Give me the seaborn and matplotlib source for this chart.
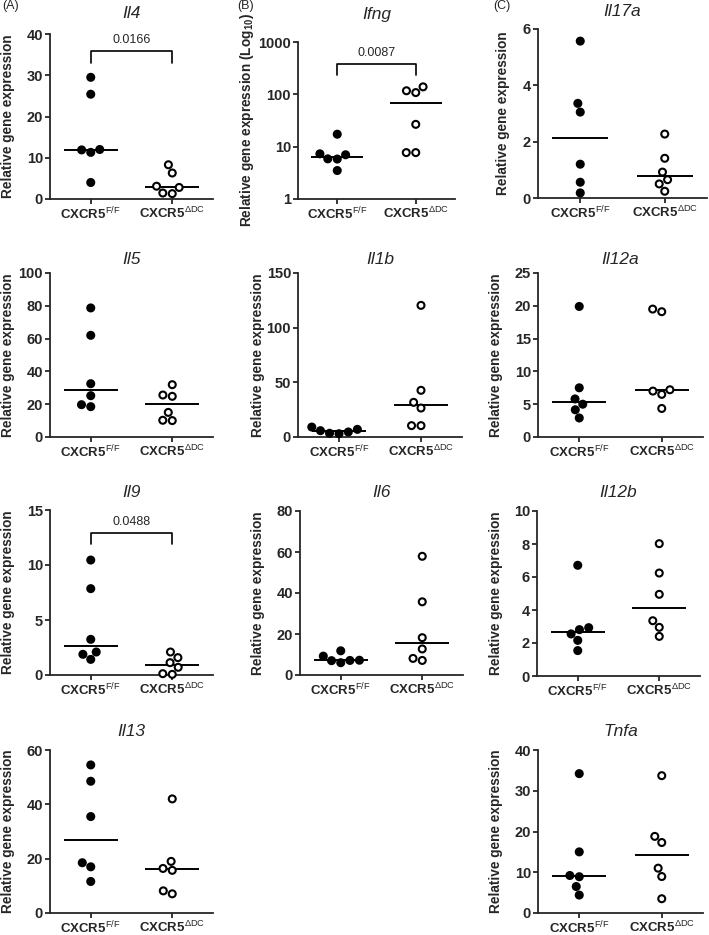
import numpy as np
import pandas as pd
import matplotlib
matplotlib.use('Agg')
import matplotlib.pyplot as plt
from matplotlib.ticker import NullLocator
import seaborn as sns

# data (relative gene expression per mouse)
groups = ['F/F', 'ΔDC']
tick_labels = [r'CXCR5$^{\mathrm{F/F}}$', r'CXCR5$^{\mathrm{ΔDC}}$']
genes = ['Il4', 'Ifng', 'Il17a', 'Il5', 'Il1b', 'Il12a', 'Il9', 'Il6', 'Il12b', 'Il13', 'Tnfa']

il4_ff = [29.5, 25.4, 11.9, 11.3, 12.0, 4.0]
il4_dc = [8.3, 6.3, 2.8, 1.3, 1.45, 3.1]
ifng_ff = [17.3, 5.85, 7.3, 3.5, 7.0, 5.8]
ifng_dc = [139, 108, 117, 26.7, 7.7, 7.7]
il17a_ff = [5.57, 3.05, 3.36, 1.2, 0.56, 0.18]
il17a_dc = [2.27, 1.41, 0.92, 0.65, 0.50, 0.24]
il5_ff = [78.7, 62.0, 32.5, 25.2, 18.5, 19.7]
il5_dc = [31.9, 25.6, 24.8, 15.0, 10.0, 10.2]
il1b_ff = [7.0, 4.6, 3.0, 3.4, 5.8, 9.1]
il1b_dc = [120.4, 42.7, 31.7, 26.5, 10.4, 10.4]
il12a_ff = [19.9, 7.5, 5.8, 5.0, 4.15, 2.9]
il12a_dc = [19.1, 19.5, 7.0, 6.5, 7.2, 4.35]
il9_ff = [10.45, 7.85, 3.24, 2.09, 1.88, 1.42]
il9_dc = [2.09, 1.58, 0.70, 1.12, 0.06, 0.12]
il6_ff = [9.2, 7.2, 6.0, 7.0, 7.1, 11.8]
il6_dc = [57.9, 35.7, 18.2, 12.7, 7.1, 8.1]
il12b_ff = [6.71, 2.81, 2.93, 2.55, 2.16, 1.54]
il12b_dc = [8.02, 6.24, 4.95, 3.35, 2.95, 2.40]
il13_ff = [54.5, 48.5, 35.5, 18.5, 17.0, 11.6]
il13_dc = [42.0, 19.0, 16.4, 15.7, 8.15, 7.06]
tnfa_ff = [34.2, 15.0, 9.2, 8.9, 6.5, 4.4]
tnfa_dc = [33.7, 18.8, 17.3, 11.0, 8.95, 3.5]

values = {
    'Il4': (il4_ff, il4_dc), 'Ifng': (ifng_ff, ifng_dc), 'Il17a': (il17a_ff, il17a_dc),
    'Il5': (il5_ff, il5_dc), 'Il1b': (il1b_ff, il1b_dc), 'Il12a': (il12a_ff, il12a_dc),
    'Il9': (il9_ff, il9_dc), 'Il6': (il6_ff, il6_dc), 'Il12b': (il12b_ff, il12b_dc),
    'Il13': (il13_ff, il13_dc), 'Tnfa': (tnfa_ff, tnfa_dc),
}

# y axis ticks per gene
yticks = {
    'Il4': [0, 10, 20, 30, 40], 'Ifng': [1, 10, 100, 1000], 'Il17a': [0, 2, 4, 6],
    'Il5': [0, 20, 40, 60, 80, 100], 'Il1b': [0, 50, 100, 150], 'Il12a': [0, 5, 10, 15, 20, 25],
    'Il9': [0, 5, 10, 15], 'Il6': [0, 20, 40, 60, 80], 'Il12b': [0, 2, 4, 6, 8, 10],
    'Il13': [0, 20, 40, 60], 'Tnfa': [0, 10, 20, 30, 40],
}

# p values: (text, bracket foot, bracket top)
brackets = {'Il4': ('0.0166', 33.0, 35.8), 'Ifng': ('0.0087', 232, 386), 'Il9': ('0.0488', 11.9, 12.9)}

# layout in pixels: axes (left, top, right, bottom), ylabel x, title y
W, H = 709, 935
rects = {
    'Il4': (50, 34, 213, 199), 'Ifng': (298, 42, 455, 199), 'Il17a': (538, 29, 707, 198),
    'Il5': (50, 273, 213, 437), 'Il1b': (298, 273, 462, 437), 'Il12a': (538, 273, 703, 437),
    'Il9': (50, 510, 213, 675), 'Il6': (300, 511, 463, 675), 'Il12b': (537, 511, 700, 676),
    'Il13': (50, 750, 213, 913), 'Tnfa': (538, 750, 703, 913),
}
label_x = {'Il4': 8, 'Ifng': 247, 'Il17a': 503, 'Il5': 8, 'Il1b': 258, 'Il12a': 496,
           'Il9': 8, 'Il6': 258, 'Il12b': 496, 'Il13': 8, 'Tnfa': 496}
title_y = {'Il4': 13, 'Ifng': 15, 'Il17a': 12, 'Il5': 260, 'Il1b': 260, 'Il12a': 260,
           'Il9': 493, 'Il6': 493, 'Il12b': 493, 'Il13': 732, 'Tnfa': 732}

sns.set_style('ticks')
plt.rcParams['font.family'] = ['Liberation Sans', 'DejaVu Sans']
plt.rcParams['mathtext.fontset'] = 'custom'
plt.rcParams['mathtext.rm'] = 'Liberation Sans'
plt.rcParams['mathtext.bf'] = 'Liberation Sans:bold'
plt.rcParams['mathtext.it'] = 'Liberation Sans:italic'

fig = plt.figure(figsize=(W / 100, H / 100), dpi=100)


def draw_panel(gene):
    L, T, R, B = rects[gene]
    ax = fig.add_axes([L / W, 1 - B / H, (R - L) / W, (B - T) / H])
    ff, dc = values[gene]
    df = pd.DataFrame({'group': [groups[0]] * len(ff) + [groups[1]] * len(dc),
                       'value': list(ff) + list(dc)})
    if gene == 'Ifng':
        ax.set_yscale('log')
    ax.set_ylim(yticks[gene][0], yticks[gene][-1])

    sns.swarmplot(data=df, x='group', y='value', hue='group', order=groups, hue_order=groups,
                  palette={groups[0]: 'black', groups[1]: 'white'}, edgecolor='black',
                  linewidth=1.5, size=5.0, legend=False, ax=ax)
    for coll in ax.collections:
        coll.set_clip_on(False)

    # median line for each group
    for i, g in enumerate(groups):
        med = np.median(df.loc[df['group'] == g, 'value'])
        ax.hlines(med, i - 0.33, i + 0.33, color='black', lw=1.4)

    ax.set_xlim(-0.5, 1.5)
    ax.set_xticks([0, 1], labels=tick_labels, fontweight='bold', fontsize=9.5)
    ax.set_yticks(yticks[gene], labels=[str(t) for t in yticks[gene]], fontweight='bold', fontsize=10.5)
    ax.yaxis.set_minor_locator(NullLocator())
    ax.set_xlabel('')
    ylab = 'Relative gene expression'
    if gene == 'Ifng':
        ylab += r' (Log$_{\mathbf{10}}$)'
    ax.set_ylabel(ylab, fontweight='bold', fontsize=9.8, va='center')
    ax.yaxis.set_label_coords((label_x[gene] - L) / (R - L), 0.5)

    sns.despine(ax=ax)
    for s in ['left', 'bottom']:
        ax.spines[s].set_linewidth(1.3)
    ax.tick_params(direction='out', length=3.5, width=1.3, pad=1.5)

    fig.text((L + R) / 2 / W, 1 - title_y[gene] / H, gene, style='italic', fontsize=12.5,
             ha='center', va='center')

    if gene in brackets:
        p, lo, hi = brackets[gene]
        ax.plot([0, 0, 1, 1], [lo, hi, hi, lo], color='black', lw=1.2, clip_on=False)
        ax.annotate(p, (0.5, hi), xytext=(0, 3.5), textcoords='offset points',
                    ha='center', va='bottom', fontsize=9)
    return ax


for gene in genes:
    draw_panel(gene)

for lab, x in [('(A)', 2), ('(B)', 237), ('(C)', 493)]:
    fig.text(x / W, 1 - 6 / H, lab, fontsize=9, va='center')

fig.savefig('out.png', dpi=100)
